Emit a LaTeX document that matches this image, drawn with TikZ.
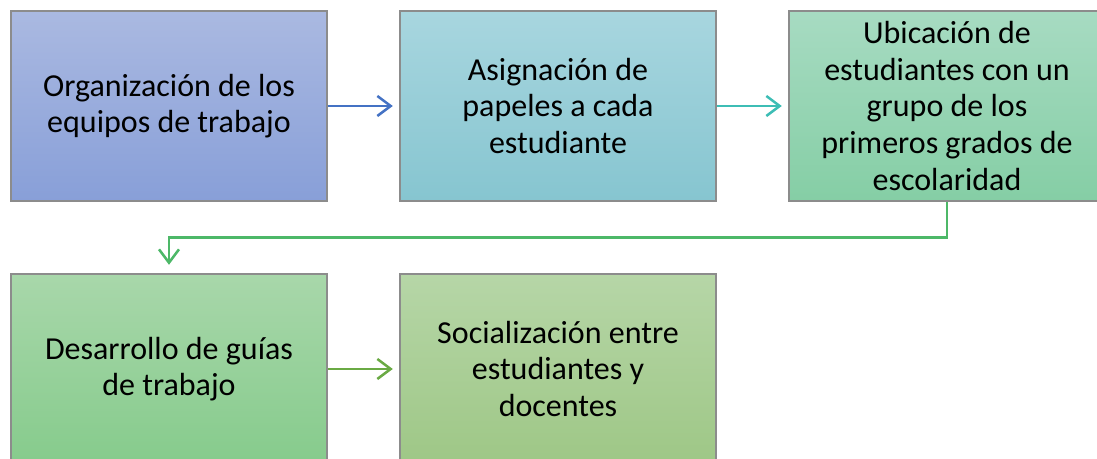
\documentclass[tikz,border=0pt]{standalone}
\usepackage{fontspec}
\setmainfont{Carlito}
\usetikzlibrary{arrows.meta}
\definecolor{bordergray}{HTML}{8C8C8C}
\definecolor{aBlue}{HTML}{4472C4}
\definecolor{aTeal}{HTML}{3DBDB5}
\definecolor{aGreen}{HTML}{4DB868}
\definecolor{aOlive}{HTML}{6AAA44}
\definecolor{bOneT}{HTML}{AAB9E1}
\definecolor{bOneB}{HTML}{889FD8}
\definecolor{bTwoT}{HTML}{A8D6DF}
\definecolor{bTwoB}{HTML}{86C5D0}
\definecolor{bThrT}{HTML}{A7DBC2}
\definecolor{bThrB}{HTML}{85CEA5}
\definecolor{bFouT}{HTML}{A8D7AA}
\definecolor{bFouB}{HTML}{86CB8C}
\definecolor{bFivT}{HTML}{B6D6A7}
\definecolor{bFivB}{HTML}{9EC786}
\tikzset{
  box/.style={draw=bordergray, line width=0.8pt, minimum width=237pt, minimum height=142.5pt,
    align=center, inner sep=0pt, text=black,
    font=\fontsize{24}{27.4}\selectfont},
  conn/.style={line width=1.9pt, -{Straight Barb[length=10pt, width=15pt, line width=1.9pt]}},
}
\begin{document}
\begin{tikzpicture}[x=0.75pt, y=-0.75pt]
\clip (0,0) rectangle (1097,459);
\node[box, top color=bOneT, bottom color=bOneB] (b1) at (169,106) {Organización de los\\equipos de trabajo};
\node[box, top color=bTwoT, bottom color=bTwoB] (b2) at (558,106) {Asignación de\\papeles a cada\\estudiante};
\node[box, top color=bThrT, bottom color=bThrB] (b3) at (947,106) {Ubicación de\\estudiantes con un\\grupo de los\\primeros grados de\\escolaridad};
\node[box, top color=bFouT, bottom color=bFouB] (b4) at (169,369) {Desarrollo de guías\\de trabajo};
\node[box, top color=bFivT, bottom color=bFivB] (b5) at (558,369) {Socialización entre\\estudiantes y\\docentes};
\draw[conn, aBlue, shorten >=5pt] (b1.east) -- (b2.west);
\draw[conn, aTeal, shorten >=5pt] (b2.east) -- (b3.west);
\draw[conn, aGreen, shorten >=6.5pt] (b3.south) -- ++(0,36) -| (b4.north);
\draw[conn, aOlive, shorten >=5pt] (b4.east) -- (b5.west);
\end{tikzpicture}
\end{document}
